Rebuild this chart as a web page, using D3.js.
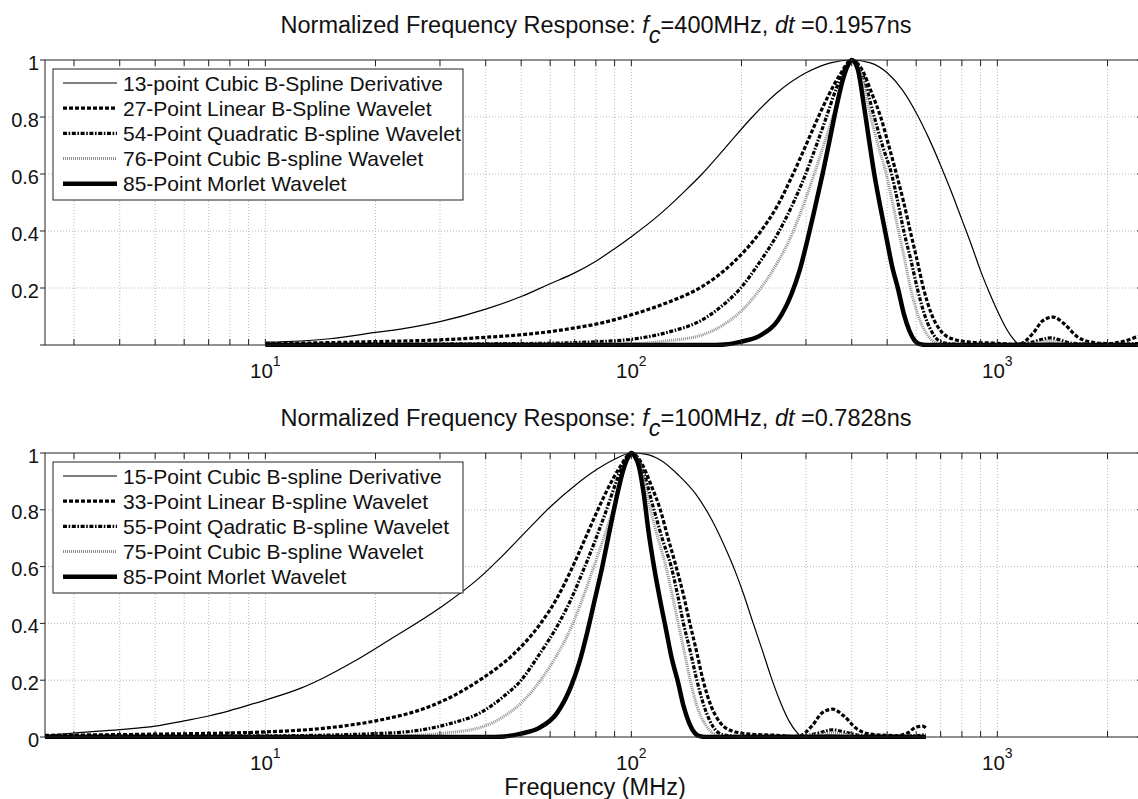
<!DOCTYPE html>
<html>
<head>
<meta charset="utf-8">
<script src="https://cdn.jsdelivr.net/npm/d3@7"></script>
<style>
  body { margin: 0; background: #fff; }
  text { font-family: "Liberation Sans", Arial, sans-serif; fill: #111; }
</style>
</head>
<body>
<svg id="chart" width="1138" height="799"></svg>
<script>
// ---------- data: [frequency MHz, normalized magnitude] ----------
// Upper panel, fc = 400 MHz, dt = 0.1957 ns
const top13CubicDeriv = [[10,0.010],[12.5,0.014],[15,0.022],[20,0.044],[25,0.062],[30,0.082],[40,0.126],[50,0.17],[60,0.215],[70,0.253],[80,0.294],[90,0.338],[100,0.38],[120,0.46],[140,0.54],[156,0.60],[180,0.69],[214,0.80],[250,0.885],[300,0.955],[350,0.99],[400,1.0],[450,0.99],[500,0.955],[550,0.895],[600,0.815],[650,0.725],[700,0.63],[750,0.535],[800,0.44],[850,0.35],[900,0.26],[950,0.185],[1000,0.12],[1050,0.065],[1100,0.025],[1155,0.0],[1250,0.004],[1400,0.007],[1600,0.004],[2000,0.003],[2500,0.004]];
const top27Linear = [[10,0.004],[20,0.012],[30,0.018],[40,0.027],[50,0.036],[60,0.047],[70,0.06],[82,0.076],[100,0.106],[126,0.15],[156,0.205],[190,0.29],[226,0.40],[251,0.49],[272,0.58],[295,0.68],[319,0.78],[347,0.88],[372,0.95],[400,1.0],[425,0.97],[455,0.88],[480,0.80],[505,0.70],[530,0.60],[555,0.50],[578,0.40],[603,0.30],[628,0.20],[660,0.11],[700,0.05],[760,0.02],[850,0.01],[1000,0.006],[1140,0.002],[1250,0.04],[1330,0.085],[1420,0.098],[1520,0.075],[1650,0.03],[1800,0.01],[2000,0.005],[2200,0.012],[2400,0.028],[2500,0.035]];
const top54Quadratic = [[10,0.002],[50,0.005],[82,0.012],[100,0.02],[126,0.045],[156,0.088],[178,0.14],[199,0.20],[224,0.29],[251,0.39],[275,0.49],[293,0.57],[316,0.68],[339,0.79],[363,0.90],[380,0.96],[400,1.0],[425,0.96],[461,0.80],[488,0.69],[514,0.60],[535,0.50],[555,0.40],[580,0.30],[604,0.20],[635,0.10],[670,0.035],[711,0.008],[800,0.002],[1000,0.001],[1200,0.006],[1330,0.02],[1400,0.025],[1480,0.018],[1600,0.006],[2000,0.002],[2500,0.006]];
const top76Cubic = [[10,0.001],[100,0.005],[126,0.015],[156,0.035],[178,0.07],[200,0.12],[226,0.20],[251,0.29],[275,0.39],[295,0.49],[316,0.60],[339,0.72],[363,0.84],[380,0.93],[400,1.0],[425,0.95],[451,0.80],[475,0.69],[497,0.60],[517,0.50],[537,0.40],[558,0.30],[579,0.20],[605,0.11],[640,0.04],[670,0.012],[700,0.003],[1000,0.001],[1250,0.005],[1390,0.015],[1550,0.004],[2500,0.002]];
const top85Morlet = [[10,0],[160,0.0],[180,0.002],[200,0.012],[224,0.032],[251,0.085],[274,0.18],[288,0.26],[303,0.37],[316,0.47],[333,0.60],[347,0.71],[364,0.84],[380,0.94],[392,0.985],[400,1.0],[415,0.97],[432,0.84],[446,0.72],[461,0.60],[478,0.49],[497,0.38],[515,0.28],[537,0.19],[555,0.11],[575,0.05],[595,0.015],[611,0.004],[640,0],[2500,0]];

// Lower panel, fc = 100 MHz, dt = 0.7828 ns
const bot15CubicDeriv = [[2.5,0.005],[3,0.014],[4,0.026],[5,0.038],[6,0.057],[7,0.074],[8,0.093],[9,0.112],[10,0.13],[12.5,0.172],[14.4,0.208],[17.3,0.263],[21.7,0.34],[30,0.455],[38,0.555],[45,0.645],[53,0.74],[60,0.81],[70,0.885],[80,0.94],[90,0.978],[100,1.0],[110,0.995],[120,0.975],[135,0.92],[150,0.855],[165,0.77],[180,0.67],[192,0.585],[203,0.50],[214,0.41],[228,0.305],[241,0.21],[255,0.125],[270,0.055],[283,0.017],[293,0.0],[310,0.004],[340,0.008],[380,0.006],[450,0.003],[550,0.003],[638,0.004]];
const bot33Linear = [[2.5,0.006],[5,0.01],[10,0.018],[15,0.033],[21.7,0.066],[26,0.092],[31.5,0.135],[39,0.205],[47.5,0.29],[56.5,0.40],[62.7,0.49],[68,0.58],[73.7,0.68],[79.7,0.78],[86.7,0.88],[93,0.95],[100,1.0],[106,0.97],[113.8,0.88],[120,0.80],[126,0.70],[132.5,0.60],[138.8,0.50],[144.5,0.40],[150.8,0.30],[157,0.20],[165,0.11],[175,0.05],[190,0.02],[212,0.01],[250,0.006],[285,0.002],[312,0.04],[332,0.085],[355,0.098],[380,0.075],[412,0.03],[450,0.01],[535,0.005],[570,0.015],[600,0.035],[625,0.038],[638,0.032]];
const bot55Quadratic = [[2.5,0.003],[10,0.004],[20,0.012],[25,0.02],[31.5,0.045],[39,0.088],[44.5,0.14],[50,0.20],[56,0.29],[62.7,0.39],[68.7,0.49],[73,0.57],[79,0.68],[85,0.79],[91,0.90],[95,0.96],[100,1.0],[106,0.96],[115.3,0.80],[122,0.69],[128.5,0.60],[133.8,0.50],[138.8,0.40],[145,0.30],[151,0.20],[158.8,0.10],[167.5,0.035],[177.8,0.008],[200,0.002],[290,0.002],[320,0.012],[355,0.025],[390,0.015],[430,0.004],[560,0.003],[638,0.008]];
const bot75Cubic = [[2.5,0.001],[20,0.002],[25,0.005],[31.5,0.015],[39,0.035],[44.5,0.07],[50,0.12],[56.5,0.20],[62.7,0.29],[68.7,0.39],[73.7,0.49],[79,0.60],[85,0.72],[91,0.84],[95,0.93],[100,1.0],[106,0.95],[112.8,0.80],[118.8,0.69],[124.3,0.60],[129.3,0.50],[134.3,0.40],[139.5,0.30],[144.8,0.20],[151,0.11],[160,0.04],[167.5,0.012],[175,0.003],[250,0.001],[330,0.01],[355,0.015],[380,0.01],[450,0.002],[638,0.003]];
const bot85Morlet = [[2.5,0],[40,0],[45,0.002],[50,0.012],[56,0.032],[62.7,0.085],[68.5,0.18],[72,0.26],[75.8,0.37],[79,0.47],[83.3,0.60],[86.7,0.71],[91,0.84],[95,0.94],[98,0.985],[100,1.0],[102,0.99],[105,0.95],[108,0.86],[111.5,0.72],[115.3,0.60],[119.5,0.49],[124.3,0.38],[128.8,0.28],[134.3,0.19],[138.8,0.11],[143.8,0.05],[148.8,0.015],[152.8,0.004],[160,0],[638,0]];

const topLabels = ["13-point Cubic B-Spline Derivative","27-Point Linear B-Spline Wavelet","54-Point Quadratic B-spline Wavelet","76-Point Cubic B-spline Wavelet","85-Point Morlet Wavelet"];
const botLabels = ["15-Point Cubic B-spline Derivative","33-Point Linear B-spline Wavelet","55-Point Qadratic B-spline Wavelet","75-Point Cubic B-spline Wavelet","85-Point Morlet Wavelet"];

const xMajorTicks = [10, 100, 1000];
const yTicks = [0, 0.2, 0.4, 0.6, 0.8, 1];
const xDomain = [2.5, 2500];

// ---------- line styles for the five wavelets ----------
const lineStyles = [
  { color: "#000", width: 1.2, dash: null },
  { color: "#000", width: 3.2, dash: "4,2" },
  { color: "#000", width: 3.2, dash: "4,1.6,1.6,1.6" },
  { color: "#8f8f8f", width: 3, dash: "1,1" },
  { color: "#000", width: 4.5, dash: null }
];

const svg = d3.select("#chart");
svg.append("rect").attr("width", 1138).attr("height", 799).attr("fill", "#fff");

const left = 45, right = 1143;
const x = d3.scaleLog().domain(xDomain).range([left, right]);

// every 1..9 x decade position inside the domain (for grid + ticks)
const xAllTicks = [];
[1, 10, 100, 1000].forEach(d => {
  for (let k = 1; k <= 9; k++) {
    const f = k * d;
    if (f >= xDomain[0] && f <= xDomain[1]) xAllTicks.push(f);
  }
});

function drawPanel(cfg) {
  const y = d3.scaleLinear().domain([0, 1]).range([cfg.bottom, cfg.top]);
  const g = svg.append("g");

  // clip region for the curves
  const clipId = "clip" + cfg.id;
  svg.append("clipPath").attr("id", clipId)
    .append("rect").attr("x", left).attr("y", cfg.top - 4)
    .attr("width", right - left).attr("height", cfg.bottom - cfg.top + 6);

  // dotted grid
  const grid = g.append("g").attr("stroke", "#b8b8b8").attr("stroke-width", 1)
    .attr("stroke-dasharray", "1,2");
  xAllTicks.forEach(f => {
    grid.append("line").attr("x1", x(f)).attr("x2", x(f))
      .attr("y1", cfg.top).attr("y2", cfg.bottom);
  });
  yTicks.filter(v => v > 0 && v < 1).forEach(v => {
    grid.append("line").attr("x1", left).attr("x2", right)
      .attr("y1", y(v)).attr("y2", y(v));
  });

  // curves
  const line = d3.line()
    .x(d => x(d[0])).y(d => y(d[1]))
    .curve(d3.curveMonotoneX);
  const cg = g.append("g").attr("clip-path", `url(#${clipId})`);
  cfg.series.forEach((s, i) => {
    const st = lineStyles[i];
    cg.append("path").datum(s)
      .attr("d", line)
      .attr("fill", "none")
      .attr("stroke", st.color)
      .attr("stroke-width", st.width)
      .attr("stroke-linejoin", "round")
      .attr("stroke-dasharray", st.dash);
  });

  // axes box
  const ax = g.append("g").attr("stroke", "#222").attr("stroke-width", 1).attr("fill", "none");
  ax.append("rect").attr("x", left).attr("y", cfg.top)
    .attr("width", right - left).attr("height", cfg.bottom - cfg.top);
  // x ticks, inward on bottom and top
  xAllTicks.forEach(f => {
    ax.append("line").attr("x1", x(f)).attr("x2", x(f)).attr("y1", cfg.bottom).attr("y2", cfg.bottom - 6);
    ax.append("line").attr("x1", x(f)).attr("x2", x(f)).attr("y1", cfg.top).attr("y2", cfg.top + 6);
  });
  // y ticks: left side outward, right side inward
  yTicks.forEach(v => {
    ax.append("line").attr("x1", left - 5).attr("x2", left).attr("y1", y(v)).attr("y2", y(v));
    ax.append("line").attr("x1", right - 6).attr("x2", right).attr("y1", y(v)).attr("y2", y(v));
  });

  // y tick labels
  yTicks.filter(v => cfg.showZero || v > 0).forEach(v => {
    g.append("text").attr("x", 39).attr("y", y(v) + 9.5)
      .attr("text-anchor", "end").attr("font-size", 20)
      .text(d3.format("~g")(v));
  });

  // x tick labels as powers of ten
  xMajorTicks.forEach(f => {
    const t = g.append("text").attr("x", x(f)).attr("y", cfg.bottom + 33)
      .attr("text-anchor", "middle").attr("font-size", 20.5);
    t.append("tspan").text("10");
    t.append("tspan").attr("dy", -12).attr("font-size", 14).text(Math.round(Math.log10(f)));
  });

  // title
  const tt = g.append("text").attr("x", 596).attr("y", cfg.top - 27)
    .attr("text-anchor", "middle").attr("font-size", 23.5);
  tt.append("tspan").text("Normalized Frequency Response: ");
  tt.append("tspan").attr("font-style", "italic").text("f");
  tt.append("tspan").attr("font-style", "italic").attr("dy", 10).text("c");
  tt.append("tspan").attr("dy", -10).text(cfg.fcText + ", ");
  tt.append("tspan").attr("font-style", "italic").text("dt");
  tt.append("tspan").text(" =" + cfg.dtText);

  // legend
  const lx = 53, ly = cfg.top + 9, lw = 410, lh = 131;
  const lg = g.append("g");
  lg.append("rect").attr("x", lx).attr("y", ly).attr("width", lw).attr("height", lh)
    .attr("fill", "#fff").attr("stroke", "#222").attr("stroke-width", 1);
  cfg.labels.forEach((lab, i) => {
    const yy = ly + 14 + i * 25.2;
    const st = lineStyles[i];
    lg.append("line").attr("x1", 63).attr("x2", 117).attr("y1", yy).attr("y2", yy)
      .attr("stroke", st.color).attr("stroke-width", st.width)
      .attr("stroke-dasharray", st.dash);
    lg.append("text").attr("x", 123).attr("y", yy + 7.5).attr("font-size", 21).text(lab);
  });
}

drawPanel({
  id: "A", top: 60, bottom: 345, showZero: false,
  fcText: "=400MHz", dtText: "0.1957ns",
  labels: topLabels,
  series: [top13CubicDeriv, top27Linear, top54Quadratic, top76Cubic, top85Morlet]
});
drawPanel({
  id: "B", top: 453, bottom: 737, showZero: true,
  fcText: "=100MHz", dtText: "0.7828ns",
  labels: botLabels,
  series: [bot15CubicDeriv, bot33Linear, bot55Quadratic, bot75Cubic, bot85Morlet]
});

// shared x-axis label
svg.append("text").attr("x", 595).attr("y", 795).attr("text-anchor", "middle")
  .attr("font-size", 23.5).text("Frequency (MHz)");
</script>
</body>
</html>
